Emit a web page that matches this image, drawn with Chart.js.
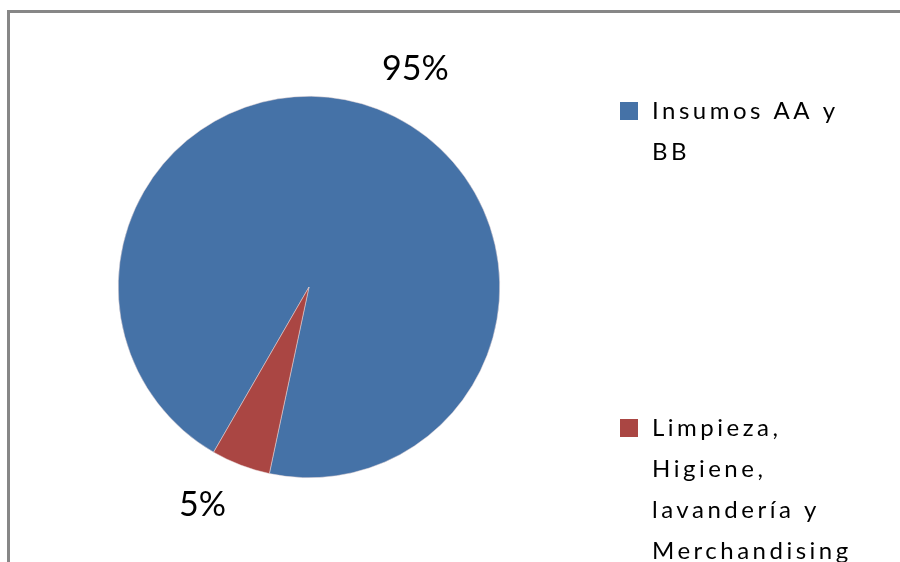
<!DOCTYPE html>
<html>
<head>
<meta charset="utf-8">
<title>Insumos</title>
<script src="https://cdn.jsdelivr.net/npm/chart.js@4.4.1/dist/chart.umd.min.js"></script>
<style>
  html, body { margin: 0; padding: 0; background: #fff; }
  canvas { display: block; }
</style>
</head>
<body>
<canvas id="pie" width="900" height="562"></canvas>
<script>
// -------------------- Data --------------------
const categories = [
  ["Insumos AA y", "BB"],
  ["Limpieza,", "Higiene,", "lavandería y", "Merchandising"]
];
const shares = [95, 5];
const colors = ["#4572A7", "#AA4643"];

// legend rows (top of each swatch)
const legendTops = [102, 419];

// -------------------- Frame + labels + legend --------------------
const decorations = {
  id: "decorations",
  beforeDraw(chart) {
    const c = chart.ctx;
    c.save();
    c.strokeStyle = "#878787";
    c.lineWidth = 3;
    c.beginPath();
    c.moveTo(7, 11.5);
    c.lineTo(900, 11.5);
    c.moveTo(8.5, 10);
    c.lineTo(8.5, 562);
    c.stroke();
    c.restore();
  },
  afterDraw(chart) {
    const c = chart.ctx;
    const meta = chart.getDatasetMeta(0);
    const data = chart.data.datasets[0].data;
    const total = data.reduce((a, b) => a + b, 0);

    c.save();
    c.fillStyle = "#000";
    c.font = "34px Lato";
    c.textAlign = "center";
    c.textBaseline = "middle";
    meta.data.forEach((arc, i) => {
      const p = arc.getProps(["x", "y", "startAngle", "endAngle", "outerRadius"], true);
      const mid = (p.startAngle + p.endAngle) / 2 + 5 * Math.PI / 180;
      const r = p.outerRadius + 52;
      const pct = Math.round(data[i] / total * 100) + "%";
      c.fillText(pct, p.x + Math.cos(mid) * r, p.y + Math.sin(mid) * r);
    });

    // legend
    c.textAlign = "left";
    c.textBaseline = "alphabetic";
    c.font = "24px Lato";
    c.letterSpacing = "3.5px";
    chart.data.labels.forEach((lines, i) => {
      const top = legendTops[i];
      c.fillStyle = chart.data.datasets[0].backgroundColor[i];
      c.fillRect(620, top, 18, 18);
      c.fillStyle = "#000";
      lines.forEach((t, j) => c.fillText(t, 652, top + 17 + j * 41));
    });
    c.restore();
  }
};

// -------------------- Chart --------------------
new Chart(document.getElementById("pie"), {
  type: "pie",
  data: {
    labels: categories,
    datasets: [{
      data: shares,
      backgroundColor: colors,
      borderColor: "#e8d8d8",
      borderWidth: 0.5
    }]
  },
  options: {
    responsive: false,
    animation: false,
    devicePixelRatio: 1,
    rotation: 210,
    layout: { padding: { left: 118, right: 400, top: 96, bottom: 84 } },
    plugins: {
      legend: { display: false },
      tooltip: { enabled: false }
    }
  },
  plugins: [decorations]
});
</script>
</body>
</html>
